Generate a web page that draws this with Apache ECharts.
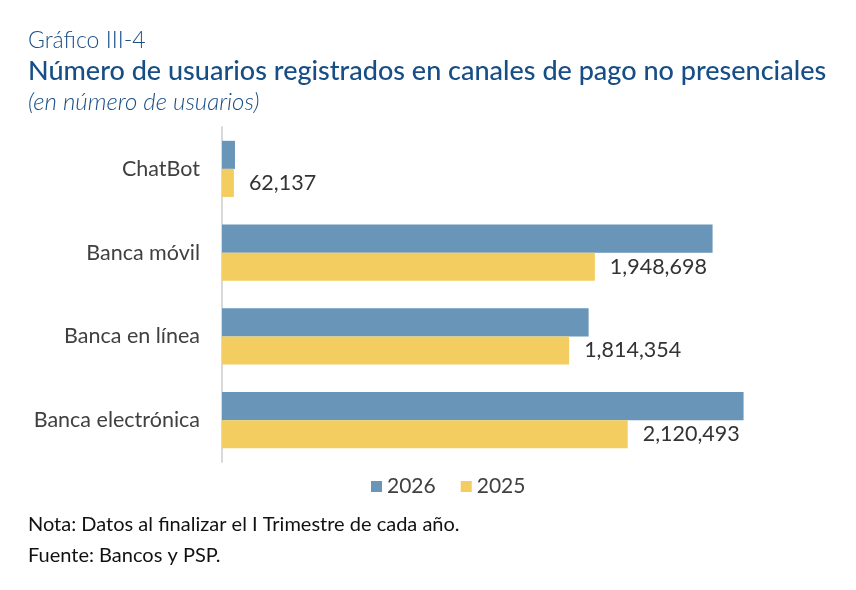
<!DOCTYPE html>
<html>
<head>
<meta charset="utf-8">
<script src="https://cdn.jsdelivr.net/npm/echarts@6/dist/echarts.min.js"></script>
<style>
html,body{margin:0;padding:0;background:#fff;}
#chart{width:856px;height:590px;}
</style>
</head>
<body>
<div id="chart"></div>
<script>
const categories = ['ChatBot', 'Banca móvil', 'Banca en línea', 'Banca electrónica'];
const series2026 = [68000, 2564000, 1916000, 2726000];
const series2025 = [62137, 1948698, 1814354, 2120493];
const seriesNames = ['2026', '2025'];

const chart = echarts.init(document.getElementById('chart'));
const titleColor = '#174e86';
chart.setOption({
  backgroundColor: '#ffffff',
  animation: false,
  title: [
    { text: 'Gráfico III-4', left: 23, top: 24, textStyle: { fontFamily: 'Lato', fontWeight: 300, fontSize: 23, color: titleColor } },
    { text: 'Número de usuarios registrados en canales de pago no presenciales', left: 23, top: 53, textStyle: { fontFamily: 'Lato', fontWeight: 500, fontSize: 27, color: titleColor } },
    { text: '(en número de usuarios)', left: 23, top: 85, textStyle: { fontFamily: 'Lato', fontStyle: 'italic', fontWeight: 300, fontSize: 24, color: titleColor } },
    { text: 'Nota: Datos al finalizar el I Trimestre de cada año.', left: 23, top: 510, textStyle: { fontFamily: 'Lato', fontWeight: 400, fontSize: 20, color: '#111111' } },
    { text: 'Fuente: Bancos y PSP.', left: 23, top: 541, textStyle: { fontFamily: 'Lato', fontWeight: 400, fontSize: 20, color: '#111111' } }
  ],
  legend: {
    data: seriesNames,
    left: 366, top: 471,
    itemWidth: 11, itemHeight: 11, itemGap: 25,
    icon: 'rect',
    textStyle: { fontFamily: 'Lato', fontSize: 21, color: '#404040' }
  },
  grid: { left: 222, right: 60, top: 127, bottom: 128, containLabel: false },
  xAxis: { type: 'value', min: 0, max: 3000000, show: false },
  yAxis: {
    type: 'category',
    data: categories,
    inverse: true,
    axisLine: { show: true, lineStyle: { color: '#d9d9d9', width: 2 } },
    axisTick: { show: false },
    axisLabel: { fontFamily: 'Lato', fontSize: 21.5, color: '#404040', margin: 22 },
    splitLine: { show: false }
  },
  series: [
    {
      name: seriesNames[0], type: 'bar', data: series2026,
      barGap: '0%', barCategoryGap: '33%',
      itemStyle: { color: '#6895b8' }
    },
    {
      name: seriesNames[1], type: 'bar', data: series2025,
      barGap: '0%', barCategoryGap: '33%',
      itemStyle: { color: '#f3cd5f' },
      label: {
        show: true, position: 'right', distance: 15,
        fontFamily: 'Lato', fontSize: 21.5, color: '#333333',
        formatter: p => p.value.toLocaleString('en-US')
      }
    }
  ]
});
</script>
</body>
</html>
